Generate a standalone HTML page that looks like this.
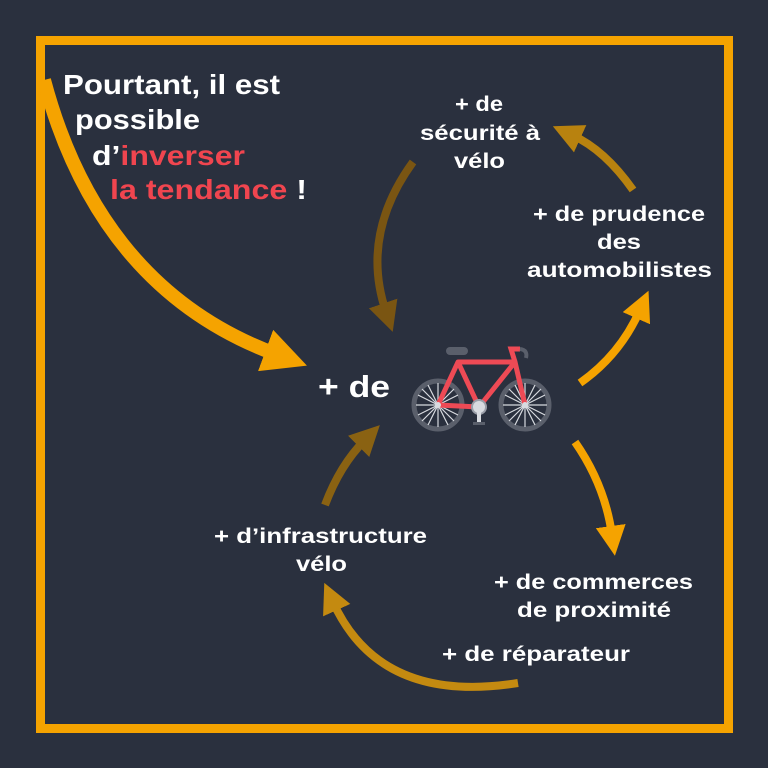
<!DOCTYPE html>
<html><head><meta charset="utf-8"><style>
html,body{margin:0;padding:0;background:#2a303e;}
svg{display:block}
text{font-family:"Liberation Sans",sans-serif;font-weight:bold;}
</style></head><body>
<svg width="768" height="768" viewBox="0 0 768 768" xmlns="http://www.w3.org/2000/svg">
<rect width="768" height="768" fill="#2a303e"/>
<rect x="40.5" y="40.5" width="688" height="688" fill="none" stroke="#f5a300" stroke-width="9"/>
<defs>
<marker id="m1" markerUnits="userSpaceOnUse" markerWidth="30" markerHeight="30" refX="6" refY="10" orient="auto" viewBox="0 0 20 20"><path d="M0,0 L20,10 L0,20 Z" fill="#7a5512"/></marker>
<marker id="m2" markerUnits="userSpaceOnUse" markerWidth="30" markerHeight="30" refX="6" refY="10" orient="auto" viewBox="0 0 20 20"><path d="M0,0 L20,10 L0,20 Z" fill="#b8820f"/></marker>
<marker id="m3" markerUnits="userSpaceOnUse" markerWidth="30" markerHeight="30" refX="6" refY="10" orient="auto" viewBox="0 0 20 20"><path d="M0,0 L20,10 L0,20 Z" fill="#f5a300"/></marker>
<marker id="m5" markerUnits="userSpaceOnUse" markerWidth="30" markerHeight="30" refX="6" refY="10" orient="auto" viewBox="0 0 20 20"><path d="M0,0 L20,10 L0,20 Z" fill="#c48a10"/></marker>
<marker id="m6" markerUnits="userSpaceOnUse" markerWidth="30" markerHeight="30" refX="6" refY="10" orient="auto" viewBox="0 0 20 20"><path d="M0,0 L20,10 L0,20 Z" fill="#8a6212"/></marker>
<marker id="mb" markerUnits="userSpaceOnUse" markerWidth="44" markerHeight="44" refX="6" refY="10" orient="auto" viewBox="0 0 20 20"><path d="M0,0 L20,10 L0,20 Z" fill="#f5a300"/></marker>
</defs>
<path d="M44,80 Q100,290 278,355" fill="none" stroke="#f5a300" stroke-width="14" marker-end="url(#mb)"/>
<path d="M413,162 Q360,235 386,312" fill="none" stroke="#7a5512" stroke-width="8" marker-end="url(#m1)"/>
<path d="M633,190 Q605,150 572,135" fill="none" stroke="#b8820f" stroke-width="8" marker-end="url(#m2)"/>
<path d="M580,383 Q620,355 640,310" fill="none" stroke="#f5a300" stroke-width="8" marker-end="url(#m3)"/>
<path d="M575,442 Q605,485 612,535" fill="none" stroke="#f5a300" stroke-width="8" marker-end="url(#m3)"/>
<path d="M518,683 Q380,705 333,602" fill="none" stroke="#c48a10" stroke-width="8" marker-end="url(#m5)"/>
<path d="M325,505 Q340,465 365,440" fill="none" stroke="#8a6212" stroke-width="8" marker-end="url(#m6)"/>

<g lengthAdjust="spacingAndGlyphs">
<text x="63" y="94" font-size="28" fill="#fff" textLength="217" lengthAdjust="spacingAndGlyphs">Pourtant, il est</text>
<text x="75" y="129" font-size="28" fill="#fff" textLength="125" lengthAdjust="spacingAndGlyphs">possible</text>
<text x="92" y="165" font-size="28" fill="#fff" textLength="153" lengthAdjust="spacingAndGlyphs">d’<tspan fill="#f0454f">inverser</tspan></text>
<text x="110" y="199" font-size="28" fill="#f0454f" textLength="197" lengthAdjust="spacingAndGlyphs">la tendance <tspan fill="#fff">!</tspan></text>
</g>

<g font-size="21" fill="#fff">
<text x="455" y="111" textLength="48" lengthAdjust="spacingAndGlyphs">+ de</text>
<text x="420" y="140" textLength="120" lengthAdjust="spacingAndGlyphs">sécurité à</text>
<text x="454" y="168" textLength="51" lengthAdjust="spacingAndGlyphs">vélo</text>
<text x="533" y="221" textLength="172" lengthAdjust="spacingAndGlyphs">+ de prudence</text>
<text x="597" y="249" textLength="44" lengthAdjust="spacingAndGlyphs">des</text>
<text x="527" y="277" textLength="185" lengthAdjust="spacingAndGlyphs">automobilistes</text>
<text x="494" y="589" textLength="199" lengthAdjust="spacingAndGlyphs">+ de commerces</text>
<text x="517" y="617" textLength="154" lengthAdjust="spacingAndGlyphs">de proximité</text>
<text x="442" y="661" textLength="188" lengthAdjust="spacingAndGlyphs">+ de réparateur</text>
<text x="214" y="543" textLength="213" lengthAdjust="spacingAndGlyphs">+ d’infrastructure</text>
<text x="296" y="571" textLength="51" lengthAdjust="spacingAndGlyphs">vélo</text>
</g>
<text x="318" y="397" font-size="31" fill="#fff" textLength="72" lengthAdjust="spacingAndGlyphs">+ de</text>

<g>
<circle cx="438" cy="405" r="24" fill="none" stroke="#5a5f6b" stroke-width="5"/>
<circle cx="525" cy="405" r="24" fill="none" stroke="#5a5f6b" stroke-width="5"/>
<g stroke="#d8dbe0" stroke-width="1.2">
<path d="M438,383 V427 M416,405 H460 M422,389 L454,421 M454,389 L422,421 M428,385 L448,425 M448,385 L428,425 M418,395 L458,415 M458,395 L418,415"/>
<path d="M525,383 V427 M503,405 H547 M509,389 L541,421 M541,389 L509,421 M515,385 L535,425 M535,385 L515,425 M505,395 L545,415 M545,395 L505,415"/>
</g>
<path d="M438,405 L458,362 L515,362 L525,405 M458,362 L479,407 L515,362 M438,405 L479,407" fill="none" stroke="#ee4a55" stroke-width="5" stroke-linejoin="round"/>
<path d="M515,362 L511,349 L520,349" fill="none" stroke="#ee4a55" stroke-width="5"/>
<path d="M520,349 Q528,350 526,358" fill="none" stroke="#5a5f6b" stroke-width="4"/>
<rect x="446" y="347" width="22" height="8" rx="4" fill="#5a5f6b"/>
<circle cx="479" cy="407" r="7" fill="#d8dbe0" stroke="#9a9ea8" stroke-width="2"/>
<rect x="477" y="412" width="4" height="11" fill="#d8dbe0"/>
<rect x="473" y="422" width="12" height="3" fill="#5a5f6b"/>
<circle cx="438" cy="405" r="3" fill="#d8dbe0"/>
<circle cx="525" cy="405" r="3" fill="#d8dbe0"/>
</g>
</svg>
</body></html>
